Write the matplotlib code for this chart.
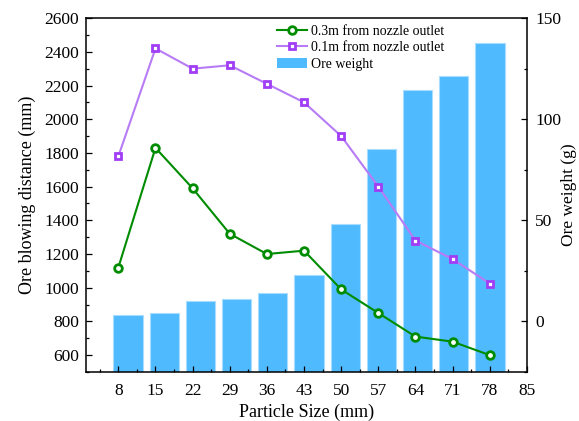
import numpy as np
import matplotlib
matplotlib.use("Agg")
import matplotlib.pyplot as plt
from matplotlib.patches import Patch
from matplotlib.lines import Line2D

plt.rcParams["font.family"] = ["Liberation Serif", "DejaVu Serif"]
plt.rcParams["font.size"] = 12

# --- data ---
sizes = [8, 15, 22, 29, 36, 43, 50, 57, 64, 71, 78]
dist_03m = [1120, 1830, 1590, 1320, 1200, 1220, 990, 850, 710, 680, 600]
dist_01m = [1780, 2420, 2300, 2320, 2210, 2100, 1900, 1600, 1280, 1170, 1025]
ore_weight = [3.0, 4.2, 10.2, 11.2, 14.0, 23.1, 48.2, 85.3, 114.3, 121.3, 137.5]
x_ticks = [8, 15, 22, 29, 36, 43, 50, 57, 64, 71, 78, 85]

green = "#008C00"
purple_mk = "#A03DF5"
purple_ln = "#B77CF5"
bar_col = "#50BAFF"

fig = plt.figure(figsize=(5.79, 4.21), dpi=100)
pos = [0.1485, 0.1164, 0.7615, 0.8406]

# bar layer (own x scale, right y axis)
axb = fig.add_axes(pos, label="bars")
w_lo, w_hi = -25, 150
idx = np.arange(len(ore_weight))
axb.bar(idx, np.array(ore_weight) - w_lo, bottom=w_lo, width=0.81,
        color=bar_col, edgecolor="#A8DDFF", linewidth=0.8)
axb.set_xlim(-1.16, 11.02)
axb.set_ylim(w_lo, w_hi)
axb.xaxis.set_visible(False)
axb.yaxis.tick_right()
axb.yaxis.set_label_position("right")
axb.set_yticks([0, 50, 100, 150])
axb.set_yticks([-25, 25, 75, 125], minor=True)
axb.set_ylabel("Ore weight (g)", fontsize=12.5, labelpad=0, rotation=90)
for s in axb.spines.values():
    s.set_visible(False)
axb.tick_params(axis="y", which="major", direction="in", length=4.5, width=0.9,
                pad=6, labelsize=12.5)
axb.tick_params(axis="y", which="minor", direction="in", length=2.5, width=0.9)

# line layer on top
ax = fig.add_axes(pos, label="lines")
ax.patch.set_visible(False)
ax.plot(sizes, dist_03m, color=green, lw=1.5, marker="o", ms=5.5,
        mfc="white", mec=green, mew=2)
ax.plot(sizes, dist_01m, color=purple_ln, lw=1.5, marker="s", ms=5,
        mfc="white", mec=purple_mk, mew=2)
ax.set_xlim(1.9, 85)
ax.set_ylim(500, 2600)
ax.set_xticks(x_ticks)
ax.set_xticks([t - 3.5 for t in x_ticks], minor=True)
ax.set_yticks(np.arange(600, 2601, 200))
ax.set_yticks(np.arange(500, 2600, 200), minor=True)
ax.tick_params(which="major", direction="in", length=4.5, width=0.9, labelsize=12.5)
ax.tick_params(which="minor", direction="in", length=2.5, width=0.9)
ax.tick_params(axis="x", pad=8)
ax.tick_params(axis="y", pad=5)
for s in ax.spines.values():
    s.set_linewidth(1.1)
ax.set_xlabel("Particle Size (mm)", fontsize=13, labelpad=3)
ax.set_ylabel("Ore blowing distance (mm)", fontsize=13, labelpad=6)

handles = [
    Line2D([], [], color=green, lw=1.5, marker="o", ms=5.5, mfc="white", mec=green, mew=2),
    Line2D([], [], color=purple_ln, lw=1.5, marker="s", ms=5, mfc="white", mec=purple_mk, mew=2),
    Patch(facecolor=bar_col, edgecolor="none"),
]
labels = ["0.3m from nozzle outlet", "0.1m from nozzle outlet", "Ore weight"]
ax.legend(handles, labels, loc="upper left", bbox_to_anchor=(0.42, 0.997),
          frameon=False, fontsize=10, handlelength=2.2, handletextpad=0.25,
          labelspacing=0.25, borderaxespad=0)

fig.savefig("out.png", dpi=100)
